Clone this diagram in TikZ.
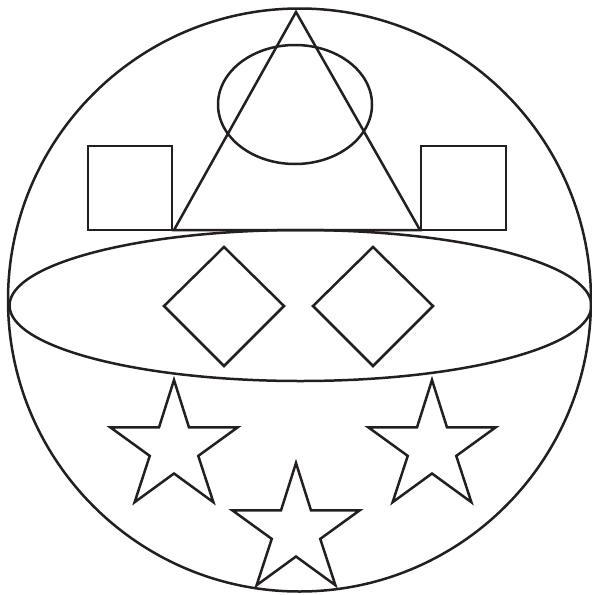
\documentclass[tikz,border=0pt]{standalone}
\usetikzlibrary{calc}
\definecolor{ink}{HTML}{231F20}
\tikzset{
  outline/.style={draw=ink, line width=2.5pt, line join=miter}
}
\begin{document}
\begin{tikzpicture}[x=1pt,y=-1pt]
\useasboundingbox (0,0) rectangle (592,595);
% big circle
\draw[outline] (299.5,300) circle[radius=291.5];
% top ellipse
\draw[outline] (295,104.5) ellipse[x radius=77, y radius=59.5];
% triangle
\draw[outline] (296,12) -- (420,230) -- (174,230) -- cycle;
% squares
\draw[outline] (88,146) rectangle (172,230);
\draw[outline] (421,146) rectangle (506,230);
% wide ellipse
\draw[outline] (300.5,305.5) ellipse[x radius=291, y radius=75.5];
% diamonds
\draw[outline] (224,247) -- (284,306) -- (224,366) -- (164,306) -- cycle;
\draw[outline] (373,247) -- (433,306) -- (373,366) -- (313,306) -- cycle;
% stars
\foreach \cx/\cy in {174/448, 432/448, 296/531}{
  \draw[outline] ($(\cx,\cy)+(0,-68)$)
    \foreach \k in {1,...,9}{
      -- ($(\cx,\cy)+({sin(36*\k)*(mod(\k,2)==1 ? 25.5 : 67)},{-cos(36*\k)*(mod(\k,2)==1 ? 25.5 : 67)})$)
    } -- cycle;
}
\end{tikzpicture}
\end{document}
